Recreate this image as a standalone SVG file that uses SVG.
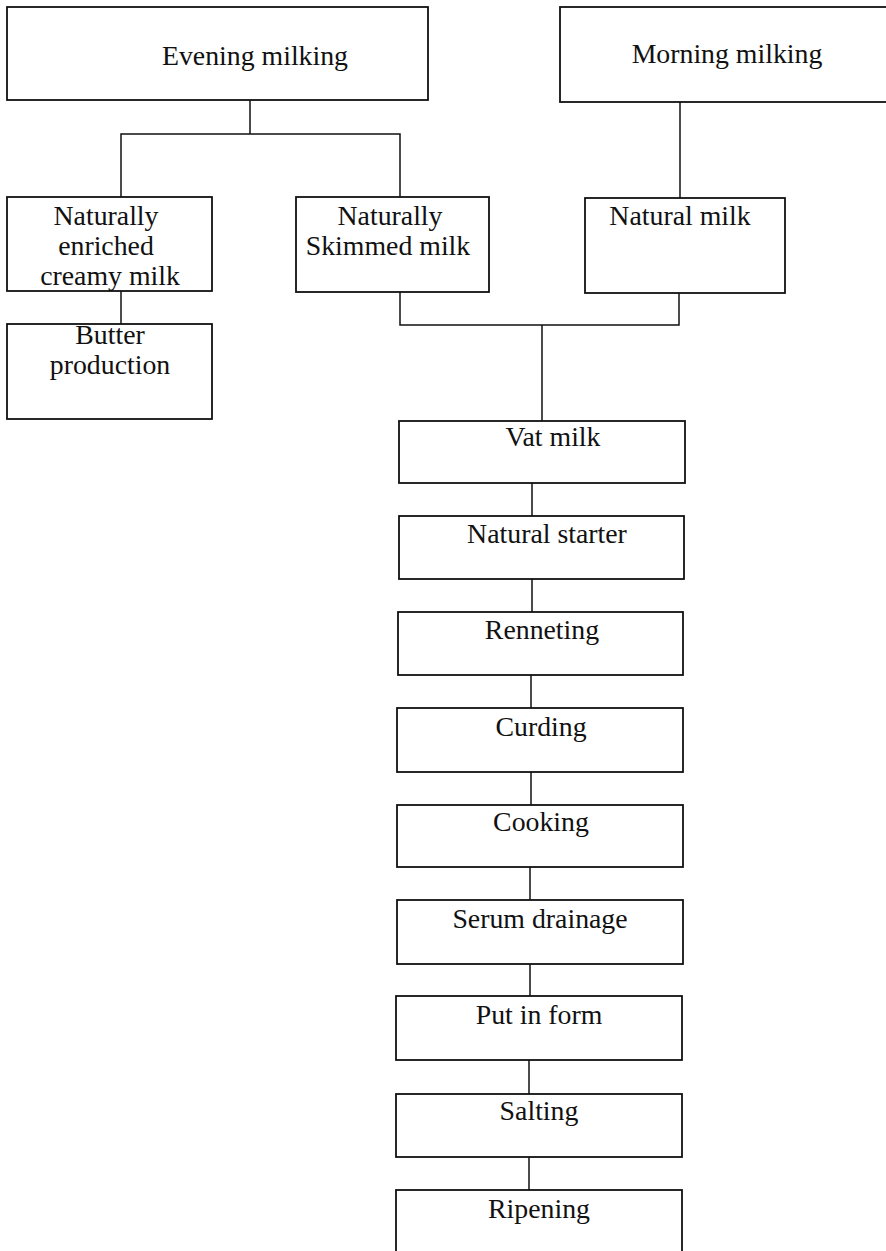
<svg xmlns="http://www.w3.org/2000/svg" width="886" height="1251" viewBox="0 0 886 1251">
<style>
.box{fill:#fff;stroke:#111;stroke-width:1.8}
.t{font-family:"Liberation Serif","Times New Roman",serif;font-size:27.8px;fill:#111;text-anchor:middle}
.c{fill:none;stroke:#111;stroke-width:1.5}
</style>
<rect width="886" height="1251" fill="#fff"/>
<g id="connectors">
<path class="c" d="M250 100V134M121 197V134H400V197"/>
<path class="c" d="M680 102V198"/>
<path class="c" d="M121 291V324"/>
<path class="c" d="M400 292V325H679V293M542 325V421"/>
<path class="c" d="M532 483V516M532 579V612M531 675V708M531 772V805M530 867V900M530 964V996M529 1060V1094M529 1157V1190"/>
</g>
<g id="evening"><rect class="box" x="7" y="7" width="421" height="93"/><text class="t" x="255" y="65">Evening milking</text></g>
<g id="morning"><rect class="box" x="560" y="7" width="336" height="95"/><text class="t" x="727" y="63">Morning milking</text></g>
<g id="enriched"><rect class="box" x="7" y="197" width="205" height="94"/><text class="t" x="106" y="225">Naturally</text><text class="t" x="106" y="255">enriched</text><text class="t" x="110" y="285">creamy milk</text></g>
<g id="skimmed"><rect class="box" x="296" y="197" width="193" height="95"/><text class="t" x="390" y="225">Naturally</text><text class="t" x="388" y="255">Skimmed milk</text></g>
<g id="natural"><rect class="box" x="585" y="198" width="200" height="95"/><text class="t" x="680" y="225">Natural milk</text></g>
<g id="butter"><rect class="box" x="7" y="324" width="205" height="95"/><text class="t" x="110" y="344">Butter</text><text class="t" x="110" y="374">production</text></g>
<g id="vat"><rect class="box" x="399" y="421" width="286" height="62"/><text class="t" x="553" y="446">Vat milk</text></g>
<g id="starter"><rect class="box" x="399" y="516" width="285" height="63"/><text class="t" x="547" y="543">Natural starter</text></g>
<g id="renneting"><rect class="box" x="398" y="612" width="285" height="63"/><text class="t" x="542" y="639">Renneting</text></g>
<g id="curding"><rect class="box" x="397" y="708" width="286" height="64"/><text class="t" x="541" y="736">Curding</text></g>
<g id="cooking"><rect class="box" x="397" y="805" width="286" height="62"/><text class="t" x="541" y="831">Cooking</text></g>
<g id="serum"><rect class="box" x="397" y="900" width="286" height="64"/><text class="t" x="540" y="928">Serum drainage</text></g>
<g id="form"><rect class="box" x="396" y="996" width="286" height="64"/><text class="t" x="539" y="1024">Put in form</text></g>
<g id="salting"><rect class="box" x="396" y="1094" width="286" height="63"/><text class="t" x="539" y="1120">Salting</text></g>
<g id="ripening"><rect class="box" x="396" y="1190" width="286" height="80"/><text class="t" x="539" y="1218">Ripening</text></g>
</svg>
